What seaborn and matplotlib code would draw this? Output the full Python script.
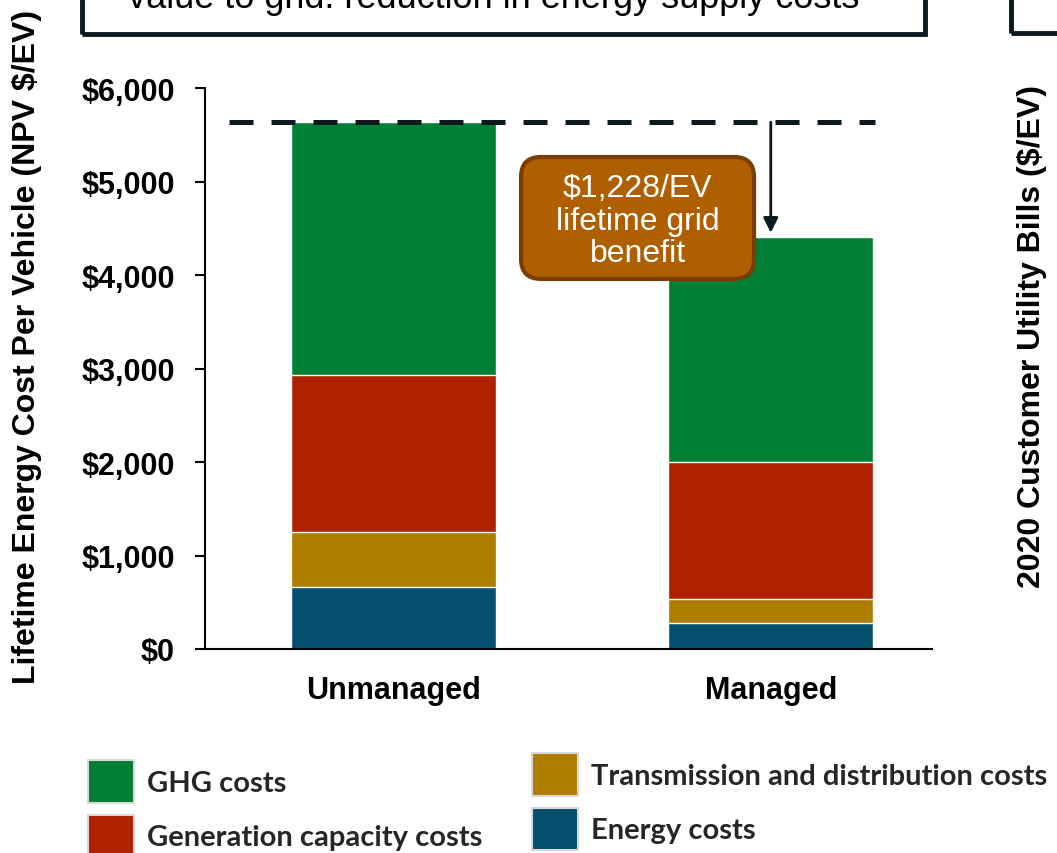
#!/usr/bin/env python3
"""Stacked bars of lifetime energy cost per EV, unmanaged vs managed charging."""

import matplotlib as mpl
import matplotlib.pyplot as plt
import pandas as pd
import seaborn as sns
from matplotlib.patches import FancyBboxPatch, Patch, Rectangle
from matplotlib.ticker import FuncFormatter

mpl.use('Agg')

SCENARIOS = ["Unmanaged", "Managed"]
# stacking order, bottom to top
COMPONENTS = ["Energy costs", "Transmission and distribution costs",
              "Generation capacity costs", "GHG costs"]
ENERGY = [665, 280]
TND = [590, 260]
GEN_CAP = [1675, 1460]
GHG = [2708, 2410]
COLORS = ["#054F6E", "#AF7D00", "#AE2200", "#017F36"]
Y_TICKS = [0, 1000, 2000, 3000, 4000, 5000, 6000]
BENEFIT_LABEL = "$1,228/EV\nlifetime grid\nbenefit"
TITLE = "value to grid: reduction in energy supply costs"
YLABEL = "Lifetime Energy Cost Per Vehicle (NPV $/EV)"
RIGHT_YLABEL = "2020 Customer Utility Bills ($/EV)"

INK = "#0c1a20"
FIG_W, FIG_H = 1057, 854


def make_frame():
    """Long frame with cumulative tops for each stacked segment."""
    df = pd.DataFrame({"scenario": SCENARIOS,
                       COMPONENTS[0]: ENERGY,
                       COMPONENTS[1]: TND,
                       COMPONENTS[2]: GEN_CAP,
                       COMPONENTS[3]: GHG})
    long = df.melt(id_vars="scenario", var_name="component", value_name="cost")
    long["top"] = long.groupby("scenario")["cost"].cumsum()
    return long


def draw_bars(ax, long):
    # tallest layer first, each smaller cumulative layer on top of it
    for comp, color in reversed(list(zip(COMPONENTS, COLORS))):
        sns.barplot(data=long[long["component"] == comp], x="scenario",
                    y="top", order=SCENARIOS, color=color, saturation=1,
                    width=0.543, errorbar=None, ax=ax)


def draw_benefit(ax, totals):
    unmanaged, managed = totals["Unmanaged"], totals["Managed"]
    ax.hlines(unmanaged, -0.436, 1.276, color=INK, lw=3.6,
              linestyles=(0, (4.8, 3.6)), zorder=4)
    ax.annotate("", xy=(1, managed), xytext=(1, unmanaged),
                arrowprops=dict(arrowstyle="-|>", lw=2, color=INK,
                                mutation_scale=22, shrinkA=0, shrinkB=3),
                zorder=4)
    box = FancyBboxPatch((0.4347, 0.66), 0.3205, 0.2175,
                         boxstyle="round,pad=0,rounding_size=0.0275",
                         mutation_aspect=1.2966, transform=ax.transAxes,
                         fc="#AF5E00", ec="#7A3F00", lw=3, zorder=5)
    ax.add_patch(box)
    ax.text(0.595, 0.764, BENEFIT_LABEL, transform=ax.transAxes,
            ha="center", va="center", color="white", fontsize=23,
            fontweight="normal", linespacing=1.12, zorder=6)


def draw_legend(fig):
    font = dict(family="Lato", weight="bold", size=21)
    handles = [Patch(facecolor=c, edgecolor="#d9d9d9", linewidth=1.5, label=l)
               for l, c in zip(COMPONENTS, COLORS)]
    kws = dict(loc="upper left", frameon=False, prop=font, handlelength=1.58,
               handleheight=1.87, labelspacing=0.41, handletextpad=0.45,
               borderpad=0, borderaxespad=0)
    fig.legend(handles=[handles[3], handles[2]],
               bbox_to_anchor=(88 / FIG_W, 1 - 761 / FIG_H), **kws)
    fig.legend(handles=[handles[1], handles[0]],
               bbox_to_anchor=(532 / FIG_W, 1 - 754 / FIG_H), **kws)


def draw_surroundings(fig):
    """Cropped neighbouring panels from the original slide."""
    fig.add_artist(Rectangle((82 / FIG_W, 1 - 35 / FIG_H), 843 / FIG_W, 0.1,
                             transform=fig.transFigure, fill=False,
                             ec=INK, lw=3.5))
    fig.add_artist(Rectangle((1011 / FIG_W, 1 - 34 / FIG_H), 0.1, 0.1,
                             transform=fig.transFigure, fill=False,
                             ec=INK, lw=3.5))
    fig.text(494 / FIG_W, 1 - 8 / FIG_H, TITLE, ha="center", va="baseline",
             fontsize=26, fontweight="normal", color="black")
    fig.text(1047 / FIG_W, 1 - 337 / FIG_H, RIGHT_YLABEL, rotation=90,
             rotation_mode="anchor", ha="center", va="bottom", fontsize=23,
             fontweight="bold", color="black")


def main():
    sns.set_theme(style="ticks")
    plt.rcParams["font.family"] = ["Liberation Sans", "DejaVu Sans"]
    plt.rcParams["font.weight"] = "bold"

    long = make_frame()
    totals = long.groupby("scenario", sort=False)["cost"].sum()

    fig = plt.figure(figsize=(FIG_W / 100, FIG_H / 100), dpi=100)
    ax = fig.add_axes([205 / FIG_W, 1 - 650 / FIG_H, 727 / FIG_W, 560.7 / FIG_H])
    draw_bars(ax, long)

    ax.set_xlim(-0.5, 1.4275)
    ax.set_ylim(0, 6000)
    ax.set_yticks(Y_TICKS)
    ax.yaxis.set_major_formatter(FuncFormatter(lambda v, _: f"${v:,.0f}"))
    ax.tick_params(axis="y", length=7.2, width=1.5, pad=14.4, labelsize=22,
                   colors="black")
    ax.tick_params(axis="x", length=0, pad=19, labelsize=22, colors="black")
    ax.set_xlabel("")
    ax.set_ylabel(YLABEL, fontsize=23, fontweight="bold", color="black")
    ax.yaxis.set_label_coords(-0.2242, 0.541)
    sns.despine(ax=ax)
    for side in ["left", "bottom"]:
        ax.spines[side].set_linewidth(1.5)
        ax.spines[side].set_color("black")

    draw_benefit(ax, totals)
    draw_legend(fig)
    draw_surroundings(fig)

    fig.savefig("out.png", dpi=100)


if __name__ == '__main__':
    main()
